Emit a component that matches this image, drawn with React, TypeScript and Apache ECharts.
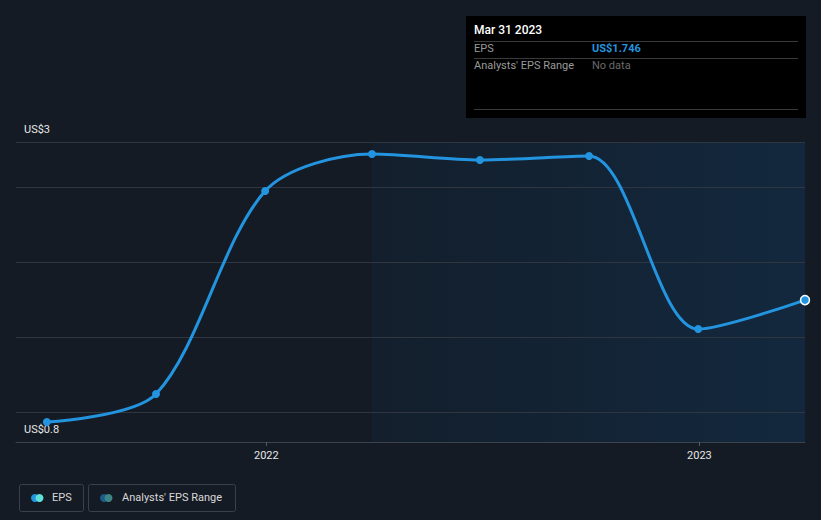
import React, { useEffect, useRef } from "react";
import * as echarts from "echarts";

const dates: Date[] = [
  new Date(2021, 5, 30),
  new Date(2021, 8, 30),
  new Date(2021, 11, 31),
  new Date(2022, 2, 31),
  new Date(2022, 5, 30),
  new Date(2022, 8, 30),
  new Date(2022, 11, 31),
  new Date(2023, 2, 31),
];
const epsValues: number[] = [0.933, 1.12, 2.473, 2.72, 2.68, 2.707, 1.553, 1.746];
const gridValues: number[] = [1.0, 1.5, 2.0, 2.5, 2.8];
const yTickLabels: string[] = ["US$3", "US$0.8"];
const yearTicks: Date[] = [new Date(2022, 0, 1), new Date(2023, 0, 1)];
const forecastStart = new Date(2022, 2, 31);
const xMin = new Date(2021, 5, 4);
const xMax = new Date(2023, 2, 31);

const FONT = "Roboto, 'Noto Sans', sans-serif";

export default function App() {
  const ref = useRef<HTMLDivElement>(null);
  useEffect(() => {
    if (!ref.current) return;
    const chart = echarts.init(ref.current, null, { renderer: "svg" });
    const last = epsValues.length - 1;
    const seriesData = dates.map((d, i) =>
      i === last
        ? {
            value: [d.getTime(), epsValues[i]],
            symbolSize: 9,
            itemStyle: { color: "#2394df", borderColor: "#ffffff", borderWidth: 1.5 },
          }
        : { value: [d.getTime(), epsValues[i]] }
    );
    const yearTs = yearTicks.map((d) => d.getTime());
    chart.setOption({
      animation: false,
      backgroundColor: "#151b24",
      textStyle: { fontFamily: FONT },
      grid: { left: 16, right: 16, top: 142, bottom: 78, containLabel: false },
      xAxis: {
        type: "value",
        min: xMin.getTime(),
        max: xMax.getTime(),
        axisLine: { show: true, lineStyle: { color: "#3c434d", width: 1 } },
        axisTick: {
          show: true,
          customValues: yearTs,
          length: 4,
          lineStyle: { color: "#555c66" },
        },
        axisLabel: {
          show: true,
          customValues: yearTs,
          formatter: (v: number) => String(new Date(v).getFullYear()),
          color: "#e6e6e6",
          fontSize: 11,
          margin: 8,
          fontFamily: FONT,
        },
        splitLine: { show: false },
      },
      yAxis: {
        type: "value",
        min: 0.8,
        max: 2.8,
        axisLine: { show: false },
        axisTick: { show: false },
        axisLabel: { show: false },
        splitLine: { show: false },
      },
      series: [
        {
          type: "line",
          name: "EPS",
          data: seriesData,
          smooth: 0.3,
          symbol: "circle",
          symbolSize: 8,
          showSymbol: true,
          clip: false,
          z: 5,
          lineStyle: { color: "#2394df", width: 3 },
          itemStyle: { color: "#2394df" },
          markArea: {
            silent: true,
            itemStyle: {
              color: new echarts.graphic.LinearGradient(0, 0, 1, 0, [
                { offset: 0, color: "#131f2c" },
                { offset: 1, color: "#13283e" },
              ]),
            },
            data: [[{ xAxis: forecastStart.getTime() }, { xAxis: xMax.getTime() }]],
          },
          markLine: {
            silent: true,
            symbol: "none",
            label: { show: false },
            lineStyle: { color: "#2f3640", type: "solid", width: 1 },
            data: gridValues.map((v) => ({ yAxis: v })),
          },
        },
      ],
      graphic: [
        {
          type: "text",
          left: 24,
          top: 124,
          style: { text: yTickLabels[0], fill: "#e8e8e8", font: `11px ${FONT}` },
        },
        {
          type: "text",
          left: 24,
          top: 424,
          style: { text: yTickLabels[1], fill: "#e8e8e8", font: `11px ${FONT}` },
        },
        {
          type: "text",
          right: 24,
          top: 148,
          style: { text: "Actual", fill: "#e8e8e8", font: `11px ${FONT}` },
        },
        {
          type: "group",
          left: 466,
          top: 16,
          children: [
            { type: "rect", shape: { x: 0, y: 0, width: 340, height: 102 }, style: { fill: "#000000" } },
            { type: "text", x: 8, y: 8, style: { text: "Mar 31 2023", fill: "#ffffff", font: `500 12px ${FONT}` } },
            { type: "line", shape: { x1: 8, y1: 25.5, x2: 332, y2: 25.5 }, style: { stroke: "#3a3a3a", lineWidth: 1 } },
            { type: "text", x: 8, y: 27, style: { text: "EPS", fill: "#9a9a9a", font: `11px ${FONT}` } },
            { type: "text", x: 126, y: 27, style: { text: "US$1.746", fill: "#2394df", font: `bold 11px ${FONT}` } },
            { type: "line", shape: { x1: 8, y1: 42.5, x2: 332, y2: 42.5 }, style: { stroke: "#3a3a3a", lineWidth: 1 } },
            { type: "text", x: 8, y: 44, style: { text: "Analysts' EPS Range", fill: "#9a9a9a", font: `11px ${FONT}` } },
            { type: "text", x: 126, y: 44, style: { text: "No data", fill: "#6a6a6a", font: `11px ${FONT}` } },
            { type: "line", shape: { x1: 8, y1: 93.5, x2: 332, y2: 93.5 }, style: { stroke: "#3a3a3a", lineWidth: 1 } },
          ],
        },
        {
          type: "group",
          left: 17,
          top: 482,
          children: [
            { type: "rect", shape: { x: 0.5, y: 0.5, width: 64, height: 27, r: 2 }, style: { fill: "none", stroke: "#3a414b", lineWidth: 1 } },
            { type: "circle", shape: { cx: 16, cy: 14, r: 4 }, style: { fill: "#2394df" } },
            { type: "circle", shape: { cx: 20.5, cy: 14, r: 4 }, style: { fill: "#5fe0d8" } },
            { type: "text", x: 33, y: 8, style: { text: "EPS", fill: "#d8d8d8", font: `11px ${FONT}` } },
            { type: "rect", shape: { x: 69.5, y: 0.5, width: 147, height: 27, r: 2 }, style: { fill: "none", stroke: "#3a414b", lineWidth: 1 } },
            { type: "circle", shape: { cx: 85, cy: 14, r: 4 }, style: { fill: "#1d5b86" } },
            { type: "circle", shape: { cx: 89.5, cy: 14, r: 4 }, style: { fill: "#3d8585" } },
            { type: "text", x: 103, y: 8, style: { text: "Analysts' EPS Range", fill: "#d8d8d8", font: `11px ${FONT}` } },
          ],
        },
      ],
    });
    return () => chart.dispose();
  }, []);
  return <div ref={ref} style={{ width: 821, height: 520, position: "absolute", left: 0, top: 0 }} />;
}
